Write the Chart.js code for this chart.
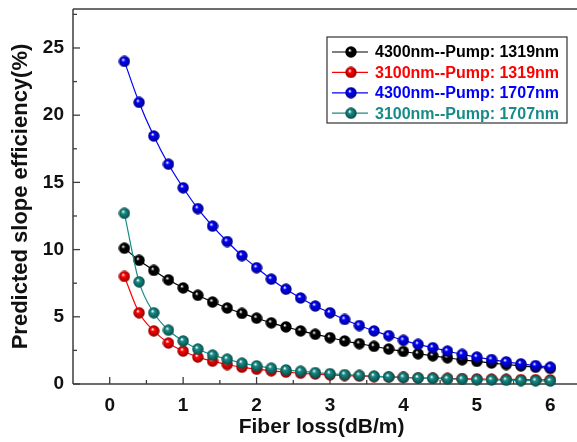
<!DOCTYPE html>
<html>
<head>
<meta charset="utf-8">
<script src="https://cdn.jsdelivr.net/npm/chart.js@4.4.1/dist/chart.umd.min.js"></script>
<style>
  html, body { margin: 0; padding: 0; background: #fff; overflow: hidden; }
  #wrap { width: 577px; height: 442px; overflow: hidden; }
  canvas { display: block; }
</style>
</head>
<body>
<div id="wrap"><canvas id="lossChart" width="577" height="442"></canvas></div>
<script>
// Valeurs
const fiberLoss = [0.2, 0.4, 0.6, 0.8, 1.0, 1.2, 1.4, 1.6, 1.8, 2.0,
                   2.2, 2.4, 2.6, 2.8, 3.0, 3.2, 3.4, 3.6, 3.8, 4.0,
                   4.2, 4.4, 4.6, 4.8, 5.0, 5.2, 5.4, 5.6, 5.8, 6.0];
const eff4300p1319 = [10.1, 9.2, 8.45, 7.75, 7.15, 6.6, 6.1, 5.65, 5.25, 4.9,
                      4.55, 4.25, 3.95, 3.7, 3.45, 3.2, 3.0, 2.8, 2.6, 2.42,
                      2.25, 2.1, 1.95, 1.8, 1.68, 1.56, 1.45, 1.35, 1.25, 1.16];
const eff3100p1319 = [8.0, 5.3, 3.95, 3.05, 2.45, 2.0, 1.7, 1.45, 1.25, 1.1,
                      0.98, 0.88, 0.8, 0.74, 0.68, 0.63, 0.59, 0.55, 0.52, 0.49,
                      0.46, 0.44, 0.42, 0.4, 0.38, 0.36, 0.35, 0.33, 0.32, 0.31];
const eff4300p1707 = [24.0, 20.95, 18.45, 16.35, 14.6, 13.05, 11.75, 10.6, 9.55, 8.65,
                      7.8, 7.05, 6.4, 5.8, 5.3, 4.8, 4.35, 3.95, 3.6, 3.25,
                      2.95, 2.7, 2.45, 2.2, 2.0, 1.82, 1.65, 1.5, 1.37, 1.25];
const eff3100p1707 = [12.7, 7.6, 5.3, 4.0, 3.2, 2.6, 2.15, 1.85, 1.55, 1.35,
                      1.18, 1.05, 0.95, 0.85, 0.77, 0.7, 0.64, 0.58, 0.53, 0.49,
                      0.45, 0.41, 0.38, 0.35, 0.32, 0.3, 0.28, 0.26, 0.24, 0.22];

const seriesLabels = ['4300nm--Pump: 1319nm', '3100nm--Pump: 1319nm',
                      '4300nm--Pump: 1707nm', '3100nm--Pump: 1707nm'];
const seriesColors = ['#000000', '#ff0000', '#0000ff', '#178c87'];
const seriesShades = ['#000000', '#8a0000', '#00007a', '#064843'];

const xMajorTicks = [0, 1, 2, 3, 4, 5, 6];
const xMinorTicks = [0.5, 1.5, 2.5, 3.5, 4.5, 5.5];
const yMajorTicks = [0, 5, 10, 15, 20, 25];
const yMinorTicks = [2.5, 7.5, 12.5, 17.5, 22.5, 27.5];

const FONT = 'Liberation Sans, Arial, sans-serif';

// Petite bille ombrée pour les marqueurs
function makeBall(color, shade) {
  const c = document.createElement('canvas');
  c.width = 12;
  c.height = 12;
  const g = c.getContext('2d');
  const grad = g.createRadialGradient(4.6, 4.2, 0.3, 6, 6, 6);
  grad.addColorStop(0, '#ffffff');
  grad.addColorStop(0.28, color);
  grad.addColorStop(1, shade);
  g.fillStyle = grad;
  g.beginPath();
  g.arc(6, 6, 5.7, 0, Math.PI * 2);
  g.fill();
  return c;
}

const balls = seriesColors.map((c, i) => makeBall(c, seriesShades[i]));

function seg(ctx, x1, y1, x2, y2) {
  ctx.beginPath();
  ctx.moveTo(x1, y1);
  ctx.lineTo(x2, y2);
  ctx.stroke();
}

// Cadre et graduations vers l'intérieur
const framePlugin = {
  id: 'frame',
  beforeDatasetsDraw(chart) {
    const { ctx, chartArea: a, scales: { x, y } } = chart;
    const edge = chart.width;
    ctx.save();
    ctx.strokeStyle = '#3c3c3c';
    ctx.lineWidth = 1.5;
    seg(ctx, a.left, a.top, edge, a.top);
    seg(ctx, a.left, a.top, a.left, a.bottom);
    seg(ctx, a.left, a.bottom, edge, a.bottom);

    ctx.lineWidth = 1.3;
    xMajorTicks.forEach(v => {
      const px = x.getPixelForValue(v);
      seg(ctx, px, a.bottom, px, a.bottom - 7);
    });
    xMinorTicks.forEach(v => {
      const px = x.getPixelForValue(v);
      seg(ctx, px, a.bottom, px, a.bottom - 4);
    });
    yMajorTicks.forEach(v => {
      const py = y.getPixelForValue(v);
      seg(ctx, a.left, py, a.left + 7, py);
    });
    yMinorTicks.forEach(v => {
      const py = y.getPixelForValue(v);
      seg(ctx, a.left, py, a.left + 4, py);
    });
    ctx.restore();
  }
};

// Légende dans la zone du graphique
const legendPlugin = {
  id: 'boxLegend',
  afterDraw(chart) {
    const { ctx } = chart;
    const bx = 327, by = 37, bw = 240, bh = 86;
    ctx.save();
    ctx.fillStyle = '#ffffff';
    ctx.fillRect(bx, by, bw, bh);
    ctx.strokeStyle = '#333333';
    ctx.lineWidth = 1.2;
    ctx.strokeRect(bx, by, bw, bh);
    ctx.font = 'bold 16px ' + FONT;
    ctx.textBaseline = 'middle';
    seriesLabels.forEach((label, i) => {
      const ry = 52 + i * 20.4;
      ctx.strokeStyle = seriesColors[i];
      ctx.lineWidth = 1.2;
      seg(ctx, 332, ry, 368, ry);
      ctx.drawImage(balls[i], 351 - 6, ry - 6);
      ctx.fillStyle = seriesColors[i];
      ctx.fillText(label, 375, ry + 1);
    });
    ctx.restore();
  }
};

const seriesValues = [eff4300p1319, eff3100p1319, eff4300p1707, eff3100p1707];
const drawOrder = [3, 2, 1, 0];

const datasets = seriesValues.map((vals, i) => ({
  label: seriesLabels[i],
  data: fiberLoss.map((x, k) => ({ x: x, y: vals[k] })),
  borderColor: seriesColors[i],
  backgroundColor: seriesColors[i],
  borderWidth: 1.2,
  pointStyle: balls[i],
  pointRadius: 5.7,
  cubicInterpolationMode: 'monotone',
  clip: false,
  order: drawOrder[i]
}));

const ctx = document.getElementById('lossChart').getContext('2d');
new Chart(ctx, {
  type: 'line',
  data: { datasets: datasets },
  options: {
    responsive: false,
    animation: false,
    events: [],
    layout: { padding: { top: 9, right: 0, left: 0, bottom: 0 } },
    plugins: {
      legend: { display: false },
      tooltip: { enabled: false }
    },
    scales: {
      x: {
        type: 'linear',
        min: -0.5,
        max: 6.27,
        grid: { display: false, drawTicks: false },
        border: { display: false },
        afterBuildTicks: s => { s.ticks = xMajorTicks.map(v => ({ value: v })); },
        afterFit: s => {
          s.height = 58;
          s.paddingLeft = 0;
          s.paddingRight = 0;
        },
        ticks: {
          autoSkip: false,
          maxRotation: 0,
          padding: 10,
          color: '#111',
          font: { family: FONT, size: 19, weight: 'bold' },
          callback: v => String(v)
        },
        title: {
          display: true,
          text: 'Fiber loss(dB/m)',
          color: '#111',
          font: { family: FONT, size: 21, weight: 'bold' },
          padding: { top: 0, bottom: 2 }
        }
      },
      y: {
        type: 'linear',
        min: 0,
        max: 27.9,
        grid: { display: false, drawTicks: false },
        border: { display: false },
        afterBuildTicks: s => { s.ticks = yMajorTicks.map(v => ({ value: v })); },
        afterFit: s => {
          s.width = 73;
          s.paddingTop = 0;
          s.paddingBottom = 0;
        },
        ticks: {
          autoSkip: false,
          padding: 9,
          color: '#111',
          font: { family: FONT, size: 19, weight: 'bold' },
          callback: v => String(v)
        },
        title: {
          display: true,
          text: 'Predicted slope efficiency(%)',
          color: '#111',
          font: { family: FONT, size: 22, weight: 'bold' },
          padding: { top: 8, bottom: 0 }
        }
      }
    }
  },
  plugins: [framePlugin, legendPlugin]
});
</script>
</body>
</html>
